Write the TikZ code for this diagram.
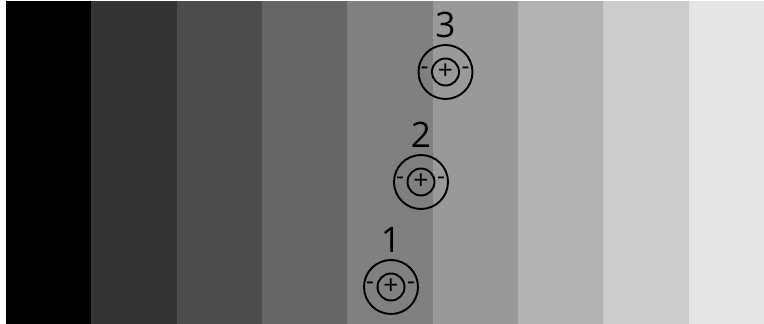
\documentclass[tikz,border=0pt]{standalone}
\usepackage{fontspec}
\setmainfont{Open Sans}
\begin{document}
\begin{tikzpicture}[
  x=0.02cm,y=0.02cm,
  ring/.style={circle,draw,line width=1.1pt,minimum size=1.08cm,inner sep=0pt},
  hub/.style={circle,draw,line width=1.1pt,minimum size=0.54cm,inner sep=0pt,font=\fontsize{15}{15}\selectfont},
  tick/.style={inner sep=0pt,font=\fontsize{14}{14}\selectfont},
  num/.style={inner sep=0pt,font=\fontsize{20}{20}\selectfont}
]
  \useasboundingbox (0,0) rectangle (764,324);
  \fill[white] (0,0) rectangle (764,324);
  % grey steps
  \fill[black]          (6,0)     rectangle (91.3,323);
  \fill[black!80!white] (91.3,0)  rectangle (176.7,323);
  \fill[black!70!white] (176.7,0) rectangle (262,323);
  \fill[black!60!white] (262,0)   rectangle (347.3,323);
  \fill[black!50!white] (347.3,0) rectangle (432.7,323);
  \fill[black!40!white] (432.7,0) rectangle (518,323);
  \fill[black!30!white] (518,0)   rectangle (603.3,323);
  \fill[black!20!white] (603.3,0) rectangle (688.7,323);
  \fill[black!10!white] (688.7,0) rectangle (764,323);
  % targets
  \begin{scope}[shift={(391,37)}]
    \node[ring] (o1) at (0,0) {};
    \node[hub] (h1) at (0,0) {+};
    \node[tick] (l1) at (-21,1) {-};
    \node[tick] (r1) at (20,1) {-};
    \node[num] (n1) at (0,47) {1};
  \end{scope}
  \begin{scope}[shift={(421,142)}]
    \node[ring] (o2) at (0,0) {};
    \node[hub] (h2) at (0,0) {+};
    \node[tick] (l2) at (-21,1) {-};
    \node[tick] (r2) at (20,1) {-};
    \node[num] (n2) at (0,47) {2};
  \end{scope}
  \begin{scope}[shift={(445.5,252)}]
    \node[ring] (o3) at (0,0) {};
    \node[hub] (h3) at (0,0) {+};
    \node[tick] (l3) at (-21,1) {-};
    \node[tick] (r3) at (20,1) {-};
    \node[num] (n3) at (0,47) {3};
  \end{scope}
\end{tikzpicture}
\end{document}
